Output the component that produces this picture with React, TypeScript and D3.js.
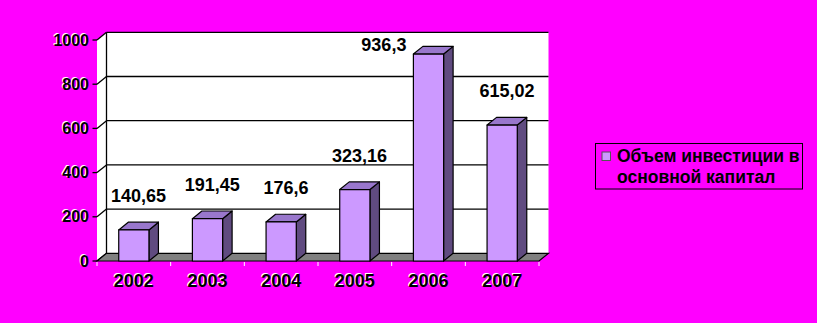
import React from "react";
import * as d3 from "d3";

const years = ["2002", "2003", "2004", "2005", "2006", "2007"];
const values = [140.65, 191.45, 176.6, 323.16, 936.3, 615.02];
const valueLabels = ["140,65", "191,45", "176,6", "323,16", "936,3", "615,02"];
const yTicks = [0, 200, 400, 600, 800, 1000];
const legendLines = ["Объем инвестиции в", "основной капитал"];

const W = 817;
const H = 323;
const FONT = "'Liberation Sans', Arial, sans-serif";
const DX = 9.5;
const DY = 7.7;

function Embossed({ x, y, text, size, anchor }: { x: number; y: number; text: string; size: number; anchor: string }) {
  return (
    <g fontFamily={FONT} fontWeight="bold" fontSize={size} textAnchor={anchor}>
      <text x={x - 1} y={y - 1} fill="#ffffff">{text}</text>
      <text x={x} y={y} fill="#000000">{text}</text>
    </g>
  );
}

export default function App() {
  const x = d3.scaleBand<string>().domain(years).range([97, 539]).padding(0);
  const y = d3.scaleLinear().domain([0, 1000]).range([261, 40]);
  const bw = x.bandwidth() * 0.41;
  const y0 = y(0);
  const left = x.range()[0];
  const right = x.range()[1];
  const backTop = y(1000) - DY;

  const tickXs = years.map((d) => x(d)!).concat([right]);

  return (
    <svg
      width={W}
      height={H}
      style={{ position: "fixed", left: 0, top: 0, display: "block" }}
    >
      <rect x={0} y={0} width={W} height={H} fill="#FF00FF" />
      {/* back wall */}
      <rect x={left + DX} y={backTop} width={right - left} height={y0 - y(1000)} fill="#ffffff" />
      {/* left wall */}
      <polygon
        points={`${left},${y(1000)} ${left + DX},${backTop} ${left + DX},${y0 - DY} ${left},${y0}`}
        fill="#ffffff"
      />
      {/* gridlines */}
      {yTicks.map((t) => (
        <g key={t} stroke="#000" strokeWidth={1.3} fill="none">
          {t > 0 && <line x1={left + DX} x2={right + DX} y1={y(t) - DY} y2={y(t) - DY} />}
          <line x1={left} y1={y(t)} x2={left + DX} y2={y(t) - DY} />
          <line x1={left - 4.5} x2={left} y1={y(t)} y2={y(t)} />
        </g>
      ))}
      <line x1={left + DX} x2={left + DX} y1={backTop} y2={y0 - DY} stroke="#000" strokeWidth={1.3} />
      {/* floor */}
      <polygon
        points={`${left},${y0} ${right},${y0} ${right + DX},${y0 - DY} ${left + DX},${y0 - DY}`}
        fill="#808080"
        stroke="#000"
        strokeWidth={1.2}
      />
      {/* x ticks */}
      {tickXs.map((tx, i) => (
        <line key={i} x1={tx} x2={tx} y1={y0 + 1} y2={y0 + 5} stroke="#ffffff" strokeWidth={1} />
      ))}
      {/* bars */}
      {years.map((yr, i) => {
        const x0 = x(yr)! + (x.bandwidth() - bw) / 2;
        const yt = y(values[i]);
        return (
          <g key={yr} stroke="#000" strokeWidth={1.2} strokeLinejoin="round">
            <polygon
              points={`${x0 + bw},${yt} ${x0 + bw + DX},${yt - DY} ${x0 + bw + DX},${y0 - DY} ${x0 + bw},${y0}`}
              fill="#604B80"
            />
            <polygon
              points={`${x0},${yt} ${x0 + DX},${yt - DY} ${x0 + bw + DX},${yt - DY} ${x0 + bw},${yt}`}
              fill="#9977CC"
            />
            <rect x={x0} y={yt} width={bw} height={y0 - yt} fill="#CC99FF" />
          </g>
        );
      })}
      {/* value labels */}
      {years.map((yr, i) => {
        const x0 = x(yr)! + (x.bandwidth() - bw) / 2;
        const yt = y(values[i]);
        let lx = x0 + bw / 2 + DX / 2;
        let ly = yt - 28;
        let anchor = "middle";
        if (ly - 13 < backTop) {
          lx = x0 - 7;
          ly = yt - 3;
          anchor = "end";
        }
        return (
          <text
            key={yr}
            x={lx}
            y={ly}
            textAnchor={anchor}
            fontFamily={FONT}
            fontWeight="bold"
            fontSize={18}
            fill="#000"
          >
            {valueLabels[i]}
          </text>
        );
      })}
      {/* y tick labels */}
      {yTicks.map((t) => (
        <Embossed key={t} x={89} y={y(t) + 5.5} text={String(t)} size={16} anchor="end" />
      ))}
      {/* x labels */}
      {years.map((yr) => (
        <Embossed key={yr} x={x(yr)! + x.bandwidth() / 2} y={287} text={yr} size={18} anchor="middle" />
      ))}
      {/* legend */}
      <rect x={595.5} y={143.5} width={207} height={45.5} fill="none" stroke="#000" strokeWidth={1} />
      <rect x={602} y={152} width={8.5} height={8.5} fill="#CC99FF" stroke="#555" strokeWidth={1} />
      {legendLines.map((ln, i) => (
        <text
          key={i}
          x={617}
          y={162 + i * 21}
          fontFamily={FONT}
          fontWeight="bold"
          fontSize={17.5}
          fill="#000"
        >
          {ln}
        </text>
      ))}
    </svg>
  );
}
